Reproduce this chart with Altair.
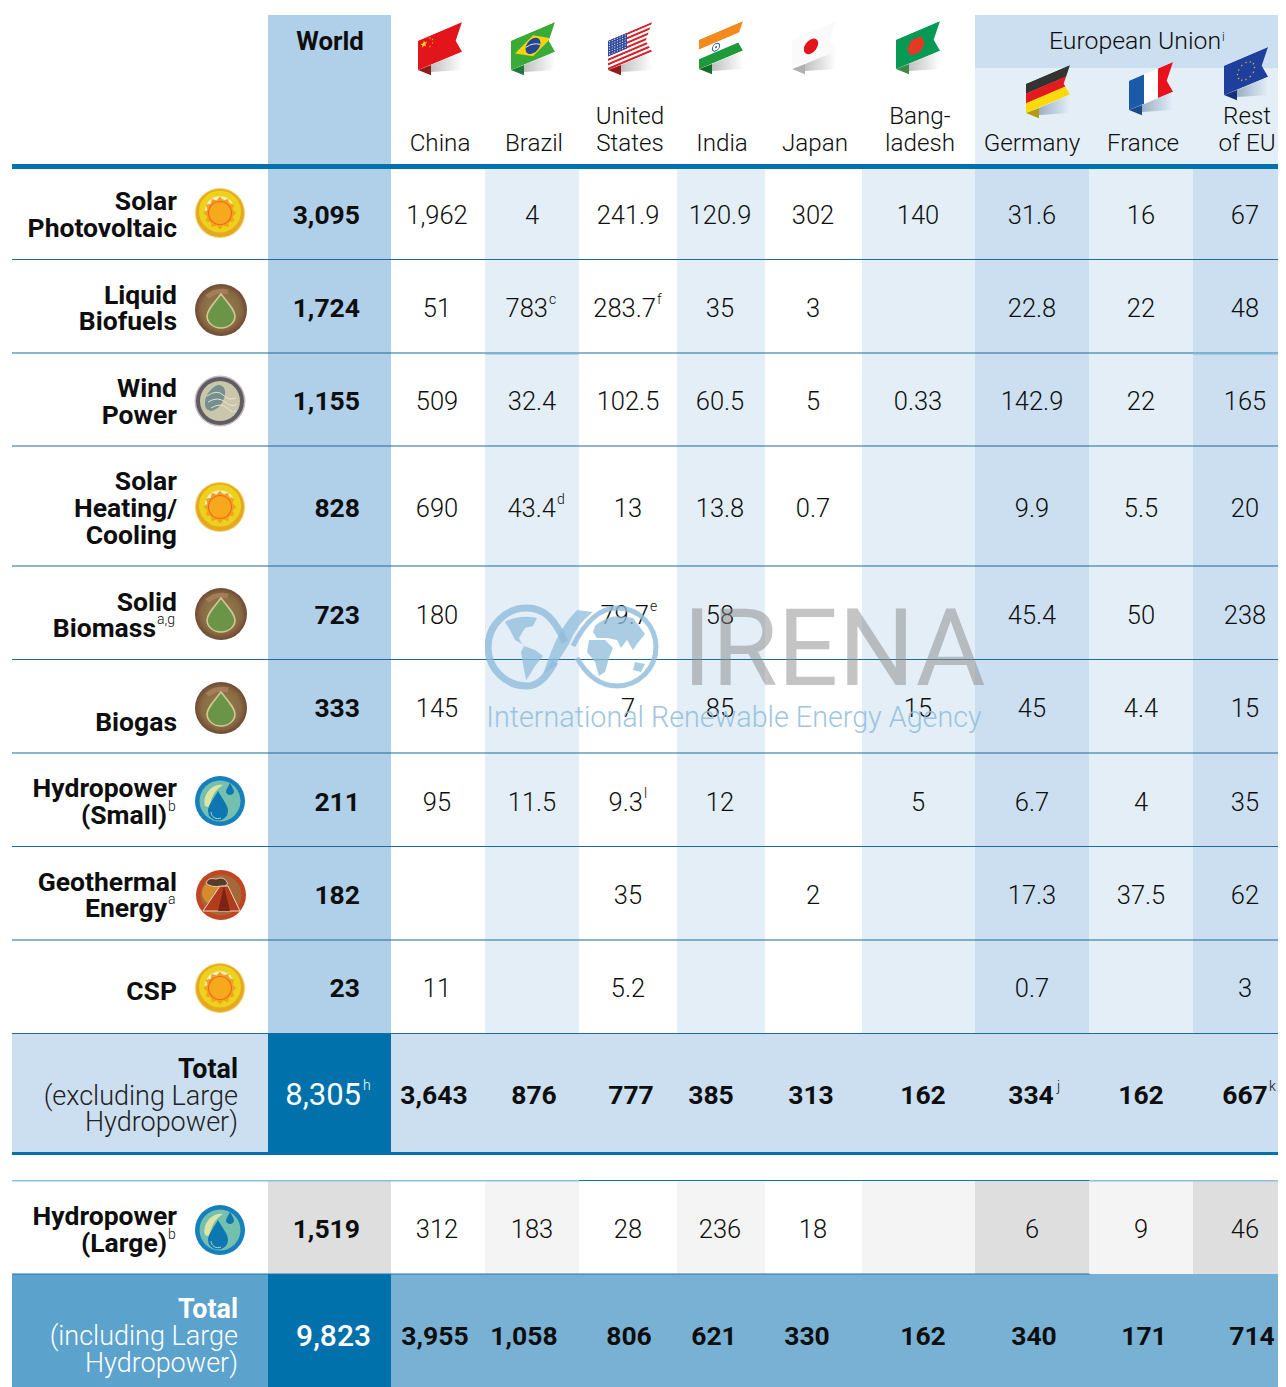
import math
import urllib.parse
import altair as alt
import pandas as pd

FONT = "Roboto"

# ---------- content ----------
row_labels = [["Solar", "Photovoltaic"], ["Liquid", "Biofuels"], ["Wind", "Power"],
              ["Solar", "Heating/", "Cooling"], ["Solid", "Biomass"], ["Biogas"],
              ["Hydropower", "(Small)"], ["Geothermal", "Energy"], ["CSP"]]
world = ["3,095", "1,724", "1,155", "828", "723", "333", "211", "182", "23"]
china = ["1,962", "51", "509", "690", "180", "145", "95", "", "11"]
brazil = ["4", "783", "32.4", "43.4", "", "", "11.5", "", ""]
usa = ["241.9", "283.7", "102.5", "13", "79.7", "7", "9.3", "35", "5.2"]
india = ["120.9", "35", "60.5", "13.8", "58", "85", "12", "", ""]
japan = ["302", "3", "5", "0.7", "", "", "", "2", ""]
bangladesh = ["140", "", "0.33", "", "", "15", "5", "", ""]
germany = ["31.6", "22.8", "142.9", "9.9", "45.4", "45", "6.7", "17.3", "0.7"]
france = ["16", "22", "22", "5.5", "50", "4.4", "4", "37.5", ""]
rest_eu = ["67", "48", "165", "20", "238", "15", "35", "62", "3"]
country_columns = [china, brazil, usa, india, japan, bangladesh, germany, france, rest_eu]

total_excl = ["3,643", "876", "777", "385", "313", "162", "334", "162", "667"]
large_hydro = ["312", "183", "28", "236", "18", "", "6", "9", "46"]
total_incl = ["3,955", "1,058", "806", "621", "330", "162", "340", "171", "714"]

# ---------- layout (page pixels on a linear scale) ----------
col_edges = [268, 391, 485, 579, 677, 765, 862, 975, 1089.5, 1193, 1286]
col_text = [437, 532, 628, 720, 813, 918, 1032, 1141, 1245]
row_text = [215, 308, 401, 508, 615, 708, 802, 895, 988]
row_lines = [259.5, 353, 446, 566, 659.5, 753, 846.5, 940, 1033.5]
excl_text = [434, 534, 631, 711, 811, 923, 1031, 1141, 1245]
incl_text = [435, 524, 629, 714, 807, 923, 1034, 1144, 1252]

PALE, MID, WORLD, DEEP = "#e3eef7", "#cbdff0", "#b0cfe8", "#0071ab"
RULE = "#1b6c9a"

rects = []
def R(x, x2, y, y2, c):
    rects.append(dict(x=x, x2=x2, y=y, y2=y2, c=c))

R(268, 391, 15, 1033.5, WORLD)
R(975, 1286, 15, 68, MID)
R(975, 1286, 68, 164, PALE)
for i, c in {2: PALE, 4: PALE, 6: PALE, 7: MID, 8: PALE, 9: MID}.items():
    R(col_edges[i], col_edges[i + 1], 169, 1033.5, c)
R(12, 1286, 1033.5, 1152, MID)
R(268, 391, 1033.5, 1152, DEEP)
R(268, 391, 1180, 1274, "#dedede")
for i, c in {2: "#f4f4f4", 4: "#f4f4f4", 6: "#f4f4f4", 7: "#dedede", 8: "#f4f4f4", 9: "#dedede"}.items():
    R(col_edges[i], col_edges[i + 1], 1180, 1274, c)
R(12, 268, 1274, 1387, "#5ba2cd")
R(268, 391, 1274, 1387, DEEP)
R(391, 1286, 1274, 1387, "#79b1d5")
# rules
for y in row_lines:
    R(12, 1286, y - 0.5, y + 0.5, RULE)
R(485, 579, 352, 354.5, "#7fb3d5")
R(1193, 1286, 352, 354.5, "#7fb3d5")
R(12, 1286, 164, 169, "#0072ad")
R(12, 1286, 1152, 1155, "#0072ad")
R(579, 1089.5, 1180, 1181, "#0c78b2")
R(12, 579, 1180, 1181.5, "#8cc0de")
R(1089.5, 1286, 1180, 1181.5, "#8cc0de")
R(12, 1089.5, 1273.5, 1274.5, "#1c79b0")

X = alt.X("x:Q", scale=alt.Scale(domain=[8, 1278], nice=False, zero=False, clamp=True), axis=None)
Y = alt.Y("y:Q", scale=alt.Scale(domain=[1387, 8], nice=False, zero=False), axis=None)

base_rect = alt.Chart(pd.DataFrame(rects)).mark_rect().encode(
    x=X, x2="x2:Q", y=Y, y2="y2:Q", color=alt.Color("c:N", scale=None))


def txt(rows, size, weight=300, align="center", color="#0e0e0e", opacity=1, dy=1):
    return alt.Chart(pd.DataFrame(rows, columns=["x", "y", "t"])).mark_text(
        font=FONT, fontSize=size, fontWeight=weight, align=align, baseline="middle",
        color=color, opacity=opacity, dy=dy).encode(x=X, y=Y, text="t:N")


# cells: superscript cells get a right-aligned number so the mark follows it
sup_cells = {(1, 1): ("c", 548), (1, 2): ("f", 656), (3, 1): ("d", 556), (4, 2): ("e", 649),
             (6, 2): ("l", 643)}
plain, right_num, sups = [], [], []
for ci, col in enumerate(country_columns):
    for ri, v in enumerate(col):
        if not v:
            continue
        if (ri, ci) in sup_cells:
            s, xr = sup_cells[(ri, ci)]
            right_num.append((xr, row_text[ri], v))
            sups.append((xr + 1, row_text[ri], s))
        else:
            plain.append((col_text[ci], row_text[ri], v))
for ci, v in enumerate(large_hydro):
    if v:
        plain.append((col_text[ci], 1229, v))

world_rows = [(360, y, v) for y, v in zip(row_text, world)] + [(360, 1229, "1,519")]
bold_center = []
for ci, v in enumerate(total_excl):
    bold_center.append((excl_text[ci], 1095, v))
for ci, v in enumerate(total_incl):
    bold_center.append((incl_text[ci], 1336, v))
sups += [(1057, 1095, "j"), (1269, 1095, "k")]

label_y = [[201, 228], [295, 321], [388, 415], [481, 508, 535], [602, 628], [722],
           [788, 815], [882, 908], [991]]
labels = [(177, y, t) for ls, ys in zip(row_labels, label_y) for t, y in zip(ls, ys)]
labels = [l if l[2] not in ("Biomass", "(Small)", "Energy") else
          ({"Biomass": 156, "(Small)": 167, "Energy": 167}[l[2]], l[1], l[2]) for l in labels]
labels += [(167, 1243, "(Large)"), (177, 1216, "Hydropower")]
label_sups = [(157, 628, "a,g"), (168, 815, "b"), (168, 908, "a"), (168, 1243, "b")]

headers = [(440, 143, "China"), (534, 143, "Brazil"), (630, 116, "United"), (630, 143, "States"),
           (722, 143, "India"), (815, 143, "Japan"), (920, 116, "Bang-"), (920, 143, "ladesh"),
           (1032, 143, "Germany"), (1143, 143, "France"), (1247, 116, "Rest"), (1247, 143, "of EU")]

layers = [base_rect]
layers.append(txt(plain, 25.5))
layers.append(txt(right_num, 25.5, align="right"))
layers.append(txt(sups, 14, align="left", dy=-8))
layers.append(txt(world_rows, 26.5, weight=700, align="right"))
layers.append(txt(bold_center, 26.5, weight=700))
layers.append(txt([(361, 1095, "8,305")], 31, weight=400, align="right", color="#ffffff"))
layers.append(txt([(363, 1095, "h")], 14, align="left", color="#ffffff", dy=-9))
layers.append(txt([(371, 1336, "9,823")], 30, weight=500, align="right", color="#ffffff"))
layers.append(txt(labels, 26.5, weight=700, align="right"))
layers.append(txt(label_sups, 14, align="left", dy=-8))
layers.append(txt([(238, 1069, "Total")], 26.8, weight=700, align="right"))
layers.append(txt([(238, 1096, "(excluding Large"), (238, 1122, "Hydropower)")], 27, align="right", color="#222222"))
layers.append(txt([(238, 1309, "Total")], 26.8, weight=700, align="right", color="#ffffff"))
layers.append(txt([(238, 1336, "(including Large"), (238, 1363, "Hydropower)")], 27, align="right", color="#ffffff"))
layers.append(txt(headers, 24.2))
layers.append(txt([(330, 41, "World")], 25.8, weight=700))
layers.append(txt([(1135, 41, "European Union")], 24.8))
layers.append(txt([(1222, 36, "i")], 12, align="left"))

# ---------- pictures: flags, icons, logo ----------
def uri(svg):
    return "data:image/svg+xml," + urllib.parse.quote(svg)

FLAG_W, FLAG_H = 44, 54

def flag(body, fold, shadow="#8d8d8d"):
    return uri(f"""<svg xmlns="http://www.w3.org/2000/svg" width="{FLAG_W}" height="{FLAG_H}" viewBox="0 0 44 54">
<defs><linearGradient id="s" x1="0" y1="0" x2="1" y2="0"><stop offset="0" stop-color="{shadow}" stop-opacity=".55"/><stop offset="1" stop-color="{shadow}" stop-opacity="0"/></linearGradient>
<clipPath id="c"><path d="M0 18.7 44 0 37.7 18.7 44 29.7 0 48Z"/></clipPath></defs>
<path d="M13 43 44 30 44 48 13 50Z" fill="url(#s)"/>
<path d="M0 48 13 43 13 53.3Z" fill="{fold}"/>
<g clip-path="url(#c)"><g transform="matrix(1 -.425 0 1 0 18.7)">{body}</g></g>
</svg>""")

def star(cx, cy, r, c):
    pts = []
    for i in range(10):
        rr = r if i % 2 == 0 else r * 0.42
        a = -math.pi / 2 + i * math.pi / 5
        pts.append(f"{cx + rr * math.cos(a):.2f},{cy + rr * math.sin(a):.2f}")
    return f'<polygon points="{" ".join(pts)}" fill="{c}"/>'

def bands(cols):
    h = 29.4 / len(cols)
    return "".join(f'<rect x="0" y="{i * h}" width="44" height="{h + .2}" fill="{c}"/>' for i, c in enumerate(cols))

china_f = flag('<rect width="44" height="30" fill="#e2151b"/>' + star(6, 6, 3.6, "#f7d21a")
               + star(12, 2.5, 1, "#f7d21a") + star(14.5, 5, 1, "#f7d21a") + star(14.5, 8.5, 1, "#f7d21a") + star(12, 11, 1, "#f7d21a"), "#8e1c1c")
brazil_f = flag('<rect width="44" height="30" fill="#3bab37"/><polygon points="4,14.5 22,4 40,14.5 22,25" fill="#f4d316"/><circle cx="22" cy="14.5" r="7.5" fill="#28468f"/><path d="M15 13Q22 11 29 16" stroke="#fff" stroke-width=".8" fill="none"/>', "#1d7a3a")
usa_f = flag(bands(["#d8222a", "#fff"] * 6 + ["#d8222a"]) + '<rect width="19" height="15.8" fill="#2f4b9c"/>'
             + "".join(f'<circle cx="{1.6 + 2.6 * i}" cy="{1.6 + 2.5 * j}" r=".55" fill="#fff"/>' for i in range(7) for j in range(6)), "#8e1c1c")
india_f = flag(bands(["#f28a1e", "#ffffff", "#1f9a3b"]) + '<circle cx="17" cy="14.7" r="3.6" fill="none" stroke="#2f5ea8" stroke-width="1"/><circle cx="17" cy="14.7" r="1" fill="#2f5ea8"/>', "#146e2b")
japan_f = flag('<rect width="44" height="30" fill="#fafafa"/><circle cx="19" cy="14.7" r="7.2" fill="#e3141c"/>', "#b0b0b0")
bangla_f = flag('<rect width="44" height="30" fill="#069a55"/><circle cx="20" cy="14.7" r="8.2" fill="#e43a25"/>', "#3d8b42")
germany_f = flag(bands(["#333333", "#e11b1f", "#fbd90b"]), "#b59a0a", "#5f7d9c")
france_f = flag('<rect width="15" height="30" fill="#1a5aa6"/><rect x="15" width="14" height="30" fill="#ffffff"/><rect x="29" width="15" height="30" fill="#e8111d"/>', "#174a8a", "#5f7d9c")
eu_f = flag('<rect width="44" height="30" fill="#1f3f9c"/>'
            + "".join(star(22 + 8.5 * math.cos(i * 0.5236), 14.7 + 8.5 * math.sin(i * 0.5236), 1.1, "#f4d316") for i in range(12)), "#162f7c", "#5f7d9c")

flags = pd.DataFrame({
    "x": [418, 511, 608, 699, 792, 896, 1026, 1129, 1224],
    "y": [22, 22, 22, 21, 21, 21, 65, 62, 47],
    "u": [china_f, brazil_f, usa_f, india_f, japan_f, bangla_f, germany_f, france_f, eu_f]})
layers.append(alt.Chart(flags).mark_image(width=FLAG_W, height=FLAG_H, align="left", baseline="top").encode(x=X, y=Y, url="u:N"))

ICON = 54
def icon(body):
    return uri(f'<svg xmlns="http://www.w3.org/2000/svg" width="{ICON}" height="{ICON}" viewBox="0 0 54 54">{body}</svg>')

burst = " ".join(f"{27 + (16.5 if i % 2 == 0 else 13) * math.cos(i * math.pi / 12):.1f},{27 + (16.5 if i % 2 == 0 else 13) * math.sin(i * math.pi / 12):.1f}" for i in range(24))
sun = icon(f'<circle cx="27" cy="27" r="25" fill="#f6cf6b"/><circle cx="27" cy="27" r="24" fill="#e5a820"/><circle cx="27" cy="25.5" r="21" fill="#ecd21c"/><path d="M12 27A15 15 0 0 1 40 18L30 13Z" fill="#f7f0d2"/><polygon points="{burst}" fill="#f3a11e"/><circle cx="27" cy="27" r="11.5" fill="#f7a91d" stroke="#ec6a1f" stroke-width="1.2"/>')
leaf = icon('<defs><radialGradient id="b"><stop offset="0" stop-color="#8d8a55"/><stop offset=".75" stop-color="#8a6a42"/><stop offset="1" stop-color="#6e4a35"/></radialGradient></defs><circle cx="27" cy="27" r="26" fill="url(#b)"/><path d="M13 14Q22 6 34 9" stroke="#b08663" stroke-width="5" fill="none" opacity=".7"/><path d="M27 11C20 20 13 27 13 33A14 12 0 0 0 41 33C41 27 34 20 27 11Z" fill="#6a9448" stroke="#d3c794" stroke-width="1.6"/>')
wind = icon('<circle cx="27" cy="27" r="25.5" fill="#c9b8bc"/><circle cx="27" cy="27" r="24" fill="#5e5d63"/><circle cx="27" cy="27" r="20" fill="#c9c6ab"/><ellipse cx="22" cy="24" rx="8.5" ry="14" transform="rotate(30 22 24)" fill="#76908f"/><g fill="none" stroke="#eeeada" stroke-width=".9"><path d="M14 22Q24 15 30 21T43 24"/><path d="M15 28Q25 22 32 28T44 30"/><path d="M18 34Q28 28 34 34T43 36"/></g>')
water = icon('<circle cx="27" cy="27" r="25" fill="#1580bd"/><circle cx="27" cy="27" r="20.5" fill="#72c0ad"/><path d="M12 32C9 20 20 9 30 11C22 16 17 24 17 34Z" fill="#dde5a6"/><path d="M25 17C20 26 15 31 15 37A10 9.5 0 0 0 35 37C35 31 30 26 25 17Z" fill="#0e76b0"/><path d="M18 38A7 7 0 0 0 28 44" stroke="#a8dbe0" fill="none"/><path d="M37 9C35 13 33 15 33 18A4.2 4.2 0 0 0 41 18C41 15 39 13 37 9Z" fill="#0e76b0"/>')
volcano = icon('<circle cx="27" cy="27" r="25" fill="#c24522"/><circle cx="27" cy="27" r="20.5" fill="#a4683a"/><ellipse cx="18" cy="25" rx="10" ry="11" fill="#d68b2e"/><path d="M26 18L34 18L46 43L9 43Z" fill="#b23a1d" stroke="#efd6bd" stroke-width="1"/><path d="M30 18L24 43L36 43Z" fill="#7b2414"/><path d="M12 15Q14 9 22 11Q30 8 33 14Q35 18 27 18Q17 20 12 15Z" fill="#5a3a28" stroke="#f1e3d3" stroke-width=".8"/>')

icons = pd.DataFrame({
    "x": [220, 221, 220, 220, 221, 221, 220, 221, 220, 220],
    "y": [213, 310, 401, 507, 614, 708, 801, 895, 988, 1230],
    "u": [sun, leaf, wind, sun, leaf, leaf, water, volcano, sun, water]})
layers.append(alt.Chart(icons).mark_image(width=ICON, height=ICON, align="center", baseline="middle").encode(x=X, y=Y, url="u:N"))

logo = uri('''<svg xmlns="http://www.w3.org/2000/svg" width="174" height="86" viewBox="0 0 174 86">
<g fill="none" stroke="#8fbcdb" stroke-opacity=".8">
<path d="M80 38C70 16 60 4 42 4A39 39 0 1 0 42 82C54 82 62 72 70 58" stroke-width="7"/>
<path d="M88 42C100 18 114 4 132 4A39 39 0 1 1 132 82C112 82 100 68 92 54" stroke-width="5"/>
</g>
<path d="M92 6 Q76 22 66 48 L58 70 L70 62 L84 40 Q92 20 108 8Z" fill="#8fbcdb" fill-opacity=".75"/>
<g fill="#8fbcdb" fill-opacity=".75">
<path d="M20 18Q34 10 52 14L48 22 40 24 34 34 37 40 30 36 25 26Z"/><path d="M39 42 50 46 58 52 50 62 44 72 41 76 38 60 36 48Z"/>
<path d="M110 22Q124 8 148 14L160 30 152 40 148 46 142 36 136 44 132 36 122 34 112 34 108 28Z"/><path d="M104 36 120 36 128 44 124 54 120 68 114 72 110 58 102 48Z"/><path d="M150 58 160 60 156 68 148 66Z"/>
</g></svg>''')
layers.append(alt.Chart(pd.DataFrame({"x": [485], "y": [604], "u": [logo]})).mark_image(
    width=174, height=86, align="left", baseline="top").encode(x=X, y=Y, url="u:N"))
layers.append(txt([(834, 648, "IRENA")], 107, weight=400, color="#8a8a8a", opacity=0.5, dy=5))
layers.append(txt([(734, 717, "International Renewable Energy Agency")], 28.7, weight=300, color="#8fbcdb", opacity=0.85))

chart = alt.layer(*layers).properties(width=1270, height=1379, padding=0,
                                      background="#ffffff", autosize=alt.AutoSizeParams(type="none")
                                      ).configure_view(stroke=None)
chart.save("out.html", embed_options={"renderer": "svg", "actions": False})
